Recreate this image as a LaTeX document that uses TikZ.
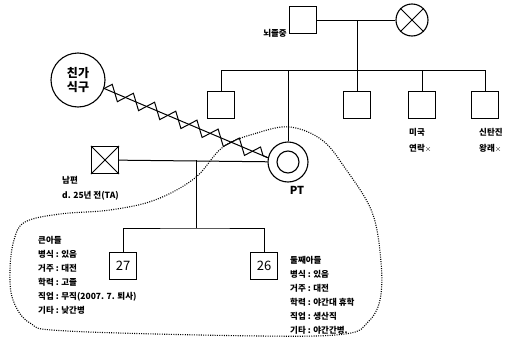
\documentclass[tikz,border=0pt]{standalone}
\usepackage{fontspec}
\newfontfamily\kr{Noto Sans CJK KR}
\usetikzlibrary{decorations.pathmorphing}

\begin{document}
\begin{tikzpicture}[x=1pt,y=-1pt,
  male/.style={draw,line width=1.1pt,minimum size=27pt,inner sep=0pt},
  female/.style={circle,draw,line width=1.1pt,minimum size=32pt,inner sep=0pt},
  rel/.style={line width=1pt},
  note/.style={inner sep=0pt,font=\kr\bfseries\fontsize{8.5}{10}\selectfont},
  info/.style={note,align=left,anchor=north west,font=\kr\bfseries\fontsize{8.5}{14}\selectfont},
  household/.style={line width=1.1pt,dash pattern=on 1pt off 1.3pt},
  hostile/.style={decorate,decoration={zigzag,segment length=23pt,amplitude=7pt}}]
  \useasboundingbox (0,0) rectangle (515,343);
  % grandparents and their children
  \node[male] (gf) at (303,20) {};
  \node[female] (gm) at (412,20) {};
  \draw[rel] (gm.north west) -- (gm.south east) (gm.north east) -- (gm.south west);
  \node[note,anchor=east] (gfnote) at (287,33) {뇌졸중};
  \draw[rel] (gf) -- (gm);
  \coordinate (gpm) at (357,20);
  \coordinate (sibl) at (221,70);
  \coordinate (sibr) at (485,70);
  \draw[rel] (gpm) -- (gpm |- sibl);
  \draw[rel] (sibl) -- (sibr);
  \foreach \n/\x in {c1/221,c3/357,c4/422,c5/485}{
    \node[male] (\n) at (\x,105) {};
    \draw[rel] (\n.north) -- (\n.north |- sibl);
  }
  \node[note,anchor=north west,align=left,font=\kr\bfseries\fontsize{8.5}{16}\selectfont] (c4note) at (409,128) {미국\\연락$\times$};
  \node[note,anchor=north west,align=left,font=\kr\bfseries\fontsize{8.5}{16}\selectfont] (c5note) at (479,128) {신탄진\\왕래$\times$};
  \node[female,minimum size=40pt] (pt) at (288,162) {};
  \node[female,minimum size=22pt] (ptin) at (pt) {};
  \draw[rel] (pt.north) -- (pt.north |- sibl);
  \node[note,font=\kr\bfseries\fontsize{11}{11}\selectfont] (ptl) at (297,190) {PT};
  \node[female,minimum size=54pt,align=center,font=\kr\bfseries\fontsize{12}{14}\selectfont] (kin) at (78,80) {친가\\식구};
  \draw[rel] (kin.-18) -- (pt.168);
  \draw[rel,hostile] (kin.-18) -- (pt.168);
  % husband and sons
  \node[male] (hus) at (105,160) {};
  \draw[rel] (hus.north west) -- (hus.south east) (hus.north east) -- (hus.south west);
  \draw[rel] (hus) -- (pt);
  \node[note,anchor=north west,align=left,font=\kr\bfseries\fontsize{8.5}{15}\selectfont] (husl) at (62,176) {남편\\d. 25년 전(TA)};
  \node[male,font=\kr\fontsize{13}{13}\selectfont] (s1) at (123,266) {27};
  \node[male,font=\kr\fontsize{13}{13}\selectfont] (s2) at (264,266) {26};
  \coordinate (fam) at (196,160);
  \coordinate (kid) at (196,228);
  \draw[rel] (fam) -- (kid);
  \draw[rel] (s1.north) |- (kid) -| (s2.north);
  \node[info] (s1info) at (38,236) {큰아들\\병식 : 있음\\거주 : 대전\\학력 : 고졸\\직업 : 무직(2007. 7. 퇴사)\\기타 : 낮간병};
  \node[info] (s2info) at (290,256) {둘째아들\\병식 : 있음\\거주 : 대전\\학력 : 야간대 휴학\\직업 : 생산직\\기타 : 야간간병.};
  \draw[household] plot[smooth cycle,tension=0.6] coordinates {
    (223,147) (257,133) (290,127) (322,140) (345,168) (372,212) (381,262)
    (380,300) (368,322) (345,334) (260,336) (67,331) (30,323) (13,300)
    (10,270) (14,240) (25,222) (60,214) (110,210) (155,200) (195,178)};
\end{tikzpicture}
\end{document}
